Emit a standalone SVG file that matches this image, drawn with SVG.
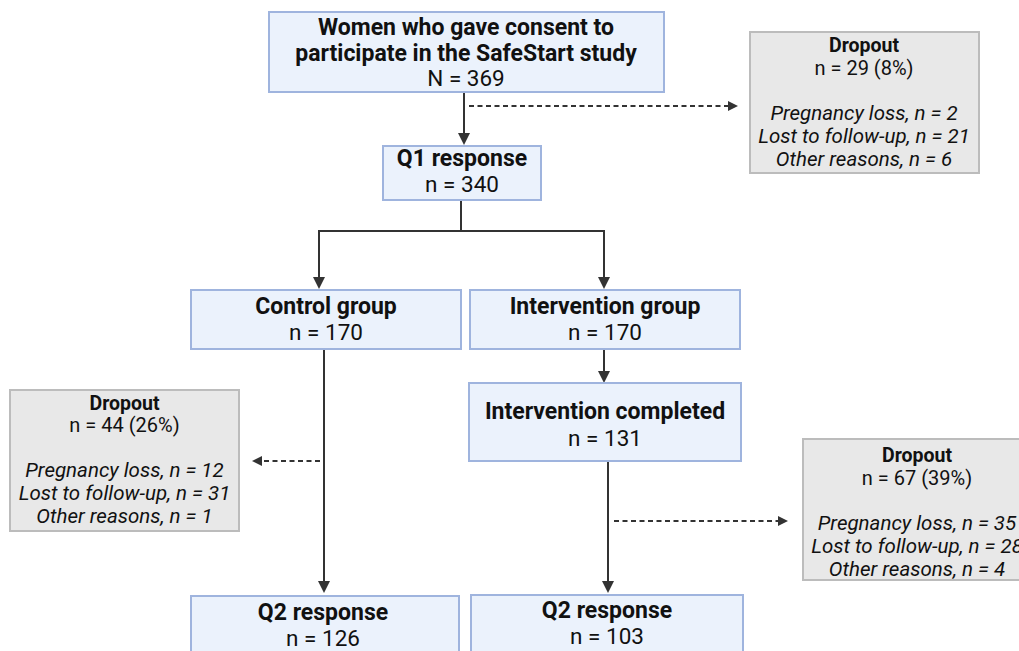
<svg xmlns="http://www.w3.org/2000/svg" width="1019" height="651" viewBox="0 0 1019 651">
<style>
.b{fill:#ebf2fc;stroke:#9fb4de;stroke-width:2}
.g{fill:#e8e8e8;stroke:#bcbcbc;stroke-width:2}
text{font-family:Roboto,"Liberation Sans",sans-serif;fill:#111;text-anchor:middle}
.t{font-size:23px;font-weight:bold}
.n{font-size:22.5px}
.dt{font-size:19.5px;font-weight:bold}
.dn{font-size:20px}
.di{font-size:20.5px;font-style:italic}
.l{fill:none;stroke:#333;stroke-width:2}
.d{fill:none;stroke:#333;stroke-width:1.8;stroke-dasharray:5 3.5}
.h{fill:#333}
</style>
<g id="connectors">
<path class="l" d="M464,92V134"/>
<path class="h" d="M458,133L464,145L470,133z"/>
<path class="d" d="M469,106H730"/>
<path class="h" d="M728,101L738,106L728,111z"/>
<path class="l" d="M461,200V231M318,231H605M319,230V278M604,230V278"/>
<path class="h" d="M313,277L319,289L325,277z"/>
<path class="h" d="M598,277L604,289L610,277z"/>
<path class="l" d="M604,349V372"/>
<path class="h" d="M598,371L604,383L610,371z"/>
<path class="l" d="M324,349V582"/>
<path class="h" d="M318,581L324,593L330,581z"/>
<path class="d" d="M320,461H261"/>
<path class="h" d="M262,456L252,461L262,466z"/>
<path class="l" d="M608,461V582"/>
<path class="h" d="M602,581L608,593L614,581z"/>
<path class="d" d="M614,521H780"/>
<path class="h" d="M778,516L788,521L778,526z"/>
</g>
<g id="consent">
<rect class="b" x="269" y="12" width="395" height="80"/>
<text class="t" x="466" y="35">Women who gave consent to</text>
<text class="t" x="466" y="61">participate in the SafeStart study</text>
<text class="n" x="466" y="86">N = 369</text>
</g>
<g id="dropout1">
<rect class="g" x="750" y="32" width="229" height="141"/>
<text class="dt" x="864" y="52">Dropout</text>
<text class="dn" x="864" y="75">n = 29 (8%)</text>
<text class="di" x="864" y="120">Pregnancy loss, n = 2</text>
<text class="di" x="864" y="143">Lost to follow-up, n = 21</text>
<text class="di" x="864" y="166">Other reasons, n = 6</text>
</g>
<g id="q1">
<rect class="b" x="383" y="146" width="158" height="54"/>
<text class="t" x="462" y="166">Q1 response</text>
<text class="n" x="462" y="192">n = 340</text>
</g>
<g id="control">
<rect class="b" x="191" y="290" width="270" height="59"/>
<text class="t" x="326" y="314">Control group</text>
<text class="n" x="326" y="340">n = 170</text>
</g>
<g id="intervention">
<rect class="b" x="470" y="290" width="270" height="59"/>
<text class="t" x="605" y="314">Intervention group</text>
<text class="n" x="605" y="340">n = 170</text>
</g>
<g id="completed">
<rect class="b" x="469" y="383" width="272" height="78"/>
<text class="t" x="605" y="419">Intervention completed</text>
<text class="n" x="605" y="446">n = 131</text>
</g>
<g id="dropout2">
<rect class="g" x="10" y="390" width="229" height="141"/>
<text class="dt" x="124.5" y="410">Dropout</text>
<text class="dn" x="124.5" y="432">n = 44 (26%)</text>
<text class="di" x="124.5" y="477">Pregnancy loss, n = 12</text>
<text class="di" x="124.5" y="500">Lost to follow-up, n = 31</text>
<text class="di" x="124.5" y="523">Other reasons, n = 1</text>
</g>
<g id="dropout3">
<rect class="g" x="803" y="439" width="229" height="141"/>
<text class="dt" x="917" y="462">Dropout</text>
<text class="dn" x="917" y="485">n = 67 (39%)</text>
<text class="di" x="917" y="530">Pregnancy loss, n = 35</text>
<text class="di" x="917" y="553">Lost to follow-up, n = 28</text>
<text class="di" x="917" y="576">Other reasons, n = 4</text>
</g>
<g id="q2control">
<rect class="b" x="191" y="596" width="268" height="70"/>
<text class="t" x="323" y="620">Q2 response</text>
<text class="n" x="323" y="646">n = 126</text>
</g>
<g id="q2intervention">
<rect class="b" x="471" y="595" width="272" height="70"/>
<text class="t" x="607" y="618">Q2 response</text>
<text class="n" x="607" y="644">n = 103</text>
</g>
</svg>
